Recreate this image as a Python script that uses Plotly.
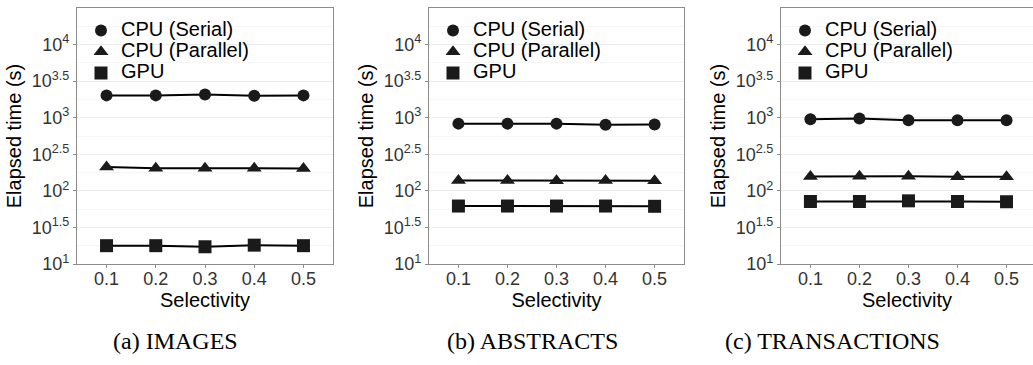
import plotly.graph_objects as go

selectivity = [0.1, 0.2, 0.3, 0.4, 0.5]
series_names = ["CPU (Serial)", "CPU (Parallel)", "GPU"]
panel_titles = ["(a) IMAGES", "(b) ABSTRACTS", "(c) TRANSACTIONS"]

# elapsed time (s)
images_serial = [2020, 2020, 2080, 1990, 2020]
images_parallel = [212, 204, 204, 204, 202]
images_gpu = [17.8, 17.8, 17.2, 18.1, 17.8]

abstracts_serial = [830, 830, 830, 800, 805]
abstracts_parallel = [139, 139, 138, 139, 137]
abstracts_gpu = [62, 62, 62, 62, 61.5]

transactions_serial = [950, 975, 920, 920, 925]
transactions_parallel = [157, 158, 158, 156, 156]
transactions_gpu = [71.5, 71.5, 73, 71.5, 71]

y_tickvals = [10, 10**1.5, 100, 10**2.5, 1000, 10**3.5, 10000]
y_ticktext = ["10<sup>1</sup>", "10<sup>1.5</sup>", "10<sup>2</sup>", "10<sup>2.5</sup>",
              "10<sup>3</sup>", "10<sup>3.5</sup>", "10<sup>4</sup>"]
y_minor = [10**1.25, 10**1.75, 10**2.25, 10**2.75, 10**3.25, 10**3.75, 10**4.25]

panels = [
    [images_serial, images_parallel, images_gpu],
    [abstracts_serial, abstracts_parallel, abstracts_gpu],
    [transactions_serial, transactions_parallel, transactions_gpu],
]
symbols = ["circle", "triangle-up", "square"]
msizes = [12, 13, 13]

W, H = 1033, 365
px_left = [77, 429, 781]
px_right = [333, 684, 1033]
top_px, bot_px = 8, 264

fig = go.Figure()
FONT = "Liberation Sans, Arial, sans-serif"
ink = "#1a1a1a"

for p in range(3):
    xa = "x" if p == 0 else f"x{p+1}"
    ya = "y" if p == 0 else f"y{p+1}"
    leg = "legend" if p == 0 else f"legend{p+1}"
    for s in range(3):
        fig.add_trace(go.Scatter(
            x=selectivity, y=panels[p][s], mode="lines+markers",
            line=dict(color="black", width=2),
            marker=dict(symbol=symbols[s], size=msizes[s], color=ink),
            xaxis=xa, yaxis=ya, showlegend=False, name=series_names[s]))
    for s in range(3):
        fig.add_trace(go.Scatter(
            x=[None], y=[None], mode="markers",
            marker=dict(symbol=symbols[s], size=msizes[s], color=ink),
            xaxis=xa, yaxis=ya, showlegend=True, legend=leg,
            name=f'<span style="font-size:20px">{series_names[s]}</span>'))

    xd = [px_left[p] / W, min(px_right[p] / W, 1.0)]
    yd = [1 - bot_px / H, 1 - top_px / H]
    xr_hi = 0.56 if p < 2 else 0.554
    axis_common = dict(
        showline=True, linecolor="#8c8c8c", linewidth=1.2, automargin=False,
        ticks="outside", ticklen=3, tickcolor="#8c8c8c",
        tickfont=dict(family=FONT, size=18, color="#333333"),
        zeroline=False,
    )
    fig.layout[f"xaxis{'' if p == 0 else p+1}"] = dict(
        domain=xd, anchor=ya, range=[0.04, xr_hi], mirror=True,
        tickvals=selectivity, ticktext=[str(v) for v in selectivity],
        showgrid=False, ticklabelstandoff=-5,
        title=dict(text="Selectivity", font=dict(family=FONT, size=20, color="black"), standoff=0),
        **axis_common)
    fig.layout[f"yaxis{'' if p == 0 else p+1}"] = dict(
        domain=yd, anchor=xa, type="log", range=[1, 4.5], mirror=(p < 2),
        tickmode="array", tickvals=y_tickvals, ticktext=y_ticktext,
        showgrid=True, gridcolor="#ebebeb", gridwidth=1,
        minor=dict(tickmode="array", tickvals=y_minor, showgrid=True,
                   gridcolor="#f6f6f6", gridwidth=1, ticks=""),
        title=dict(text="Elapsed time (s)", font=dict(family=FONT, size=20, color="black"), standoff=4),
        **axis_common)
    fig.layout[leg] = dict(
        x=(px_left[p] + 4) / W, y=1 - 15 / H, xanchor="left", yanchor="top",
        bgcolor="rgba(0,0,0,0)", borderwidth=0,
        font=dict(family=FONT, size=14, color="black"),
        tracegroupgap=0, itemwidth=30,
    )
    fig.add_annotation(
        text=panel_titles[p], xref="paper", yref="paper",
        x=[175, 532, 832][p] / W, y=1 - 341 / H, xanchor="center", yanchor="middle",
        showarrow=False, font=dict(family="Liberation Serif, Times New Roman, serif", size=24, color="black"))

fig.update_layout(
    width=W, height=H, margin=dict(l=0, r=0, t=0, b=0, autoexpand=False),
    paper_bgcolor="white", plot_bgcolor="white",
)

fig.write_html("out.html")
